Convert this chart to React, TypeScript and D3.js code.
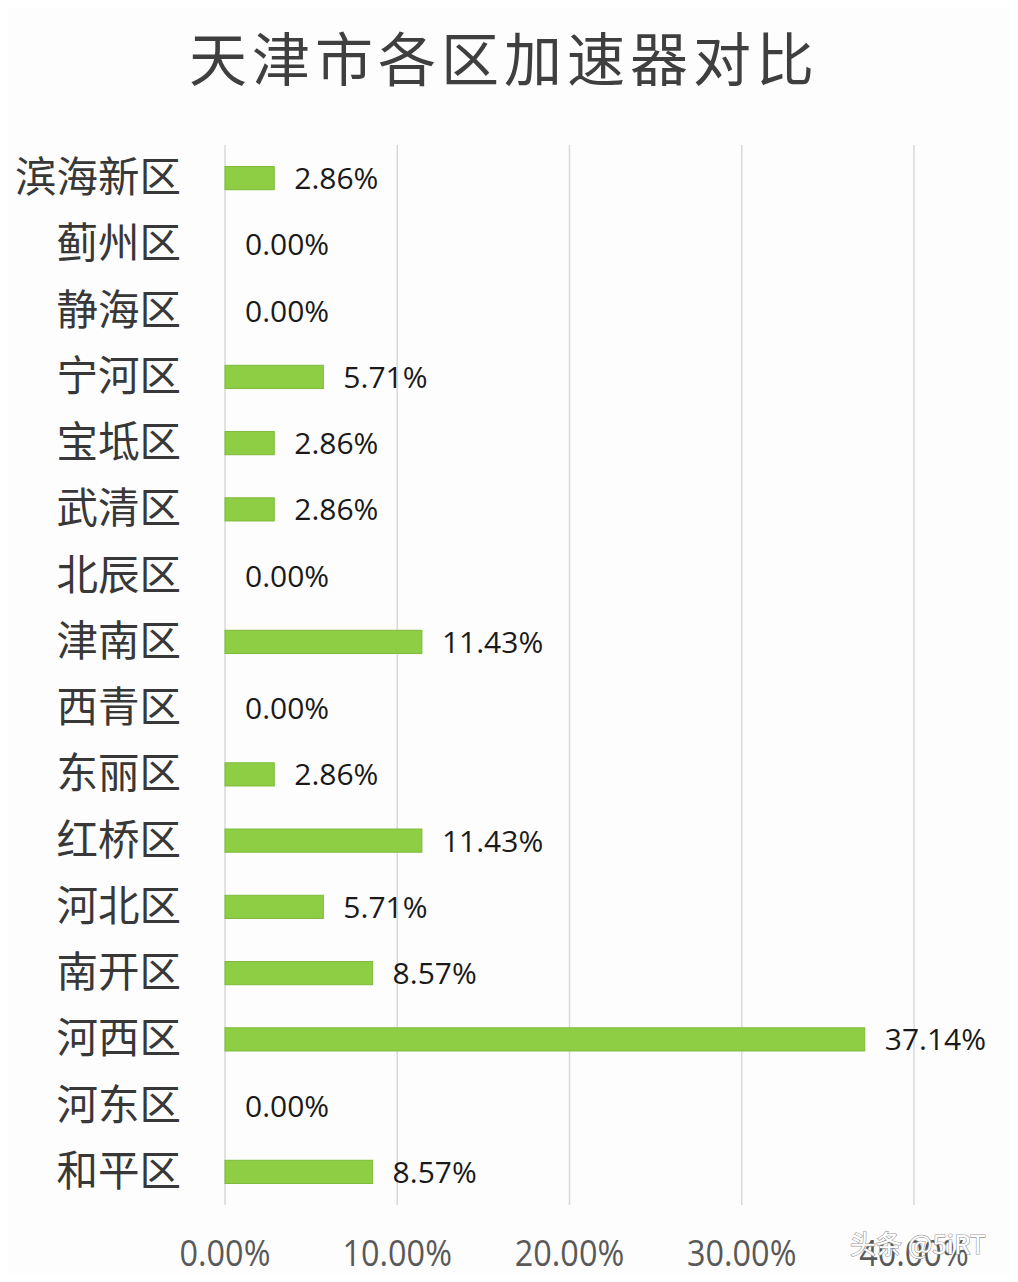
import * as d3 from "d3";

const districts = [
  "滨海新区", "蓟州区", "静海区", "宁河区", "宝坻区", "武清区", "北辰区", "津南区",
  "西青区", "东丽区", "红桥区", "河北区", "南开区", "河西区", "河东区", "和平区"
];
const shares = [2.86, 0, 0, 5.71, 2.86, 2.86, 0, 11.43, 0, 2.86, 11.43, 5.71, 8.57, 37.14, 0, 8.57];
const xTicks = [0, 10, 20, 30, 40];

const cjk = "'Noto Sans CJK SC', 'Noto Sans', sans-serif";
const latin = "'Open Sans', sans-serif";

export default function App() {
  const width = 1018;
  const height = 1282;
  const margin = { top: 145, bottom: 77, left: 225 };
  const x = d3.scaleLinear([0, 40], [margin.left, 914]);
  const y = d3.scaleBand(districts, [margin.top, height - margin.bottom]).paddingInner(0.65).paddingOuter(0.325);
  const rows = districts.map((name, i) => ({ name, value: shares[i] }));

  return (
    <svg width={width} height={height} viewBox={`0 0 ${width} ${height}`} style={{ display: "block", margin: "-8px" }}>
      <rect x="0" y="0" width={width} height={height} fill="#fdfdfd" />
      <line x1={width - 2} x2={width - 2} y1="0" y2={height} stroke="#e6e6e6" strokeWidth="2" />
      <text x="504" y="81" textAnchor="middle" fontFamily={cjk} fontSize="58" fill="#3f3f3f" letterSpacing="5">
        天津市各区加速器对比
      </text>
      {xTicks.map((tick) => (
        <g key={tick}>
          <line x1={x(tick)} x2={x(tick)} y1={margin.top} y2={height - margin.bottom} stroke="#d9d9d9" strokeWidth="1.5" />
          <text x={x(tick)} y="1266" textAnchor="middle" fontFamily={latin} fontSize="36" fill="#595959" transform={`translate(${x(tick)},0) scale(0.9,1) translate(${-x(tick)},0)`}>
            {tick.toFixed(2)}%
          </text>
        </g>
      ))}
      {rows.map((row) => {
        const top = y(row.name) ?? 0;
        const cy = top + y.bandwidth() / 2;
        const end = x(row.value);
        return (
          <g key={row.name}>
            <text x="181" y={cy + 14} textAnchor="end" fontFamily={cjk} fontSize="41.5" fill="#383838">
              {row.name}
            </text>
            {row.value > 0 && (
              <rect x={margin.left} y={top} width={end - margin.left} height={y.bandwidth()} fill="#8dce45" stroke="#7dbb3a" strokeWidth="1" />
            )}
            <text x={end + 20} y={cy + 11} fontFamily={latin} fontSize="30" fill="#1a1a1a">
              {row.value.toFixed(2)}%
            </text>
          </g>
        );
      })}
      <text x="850" y="1254" fontFamily={cjk} fontSize="26" fill="#ffffff" stroke="#9a9a9a" strokeWidth="1.2" paintOrder="stroke">
        头条 @5iRT
      </text>
    </svg>
  );
}
